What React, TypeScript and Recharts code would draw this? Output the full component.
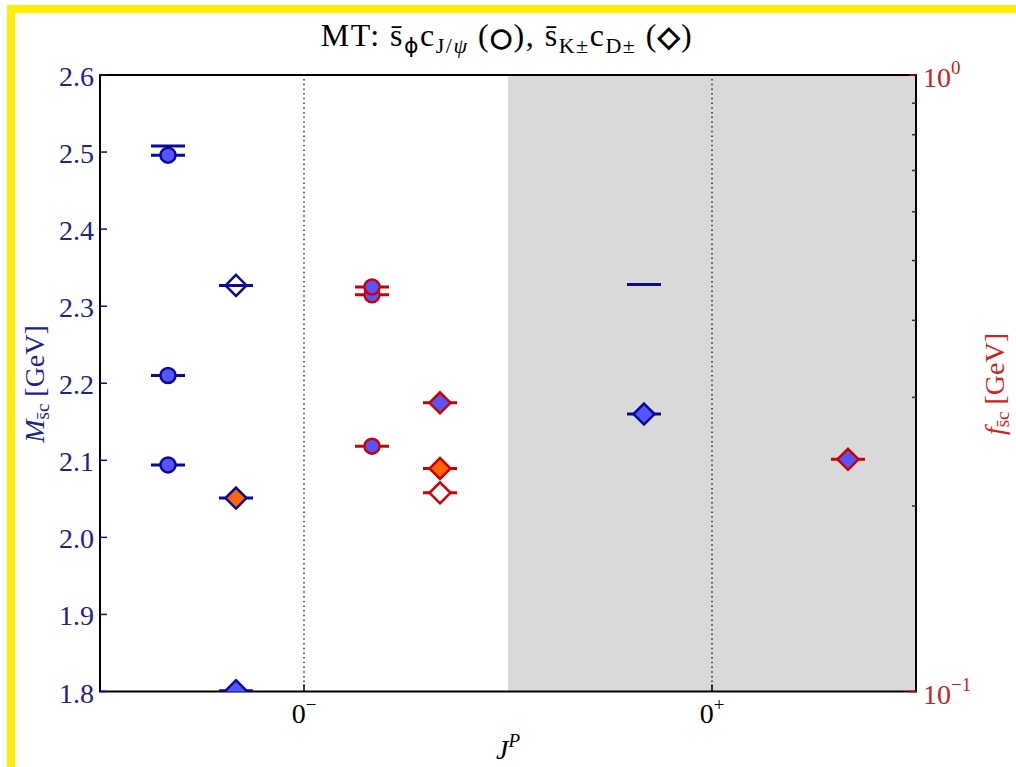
import React from 'react';
import { ComposedChart, Scatter, XAxis, YAxis, ReferenceArea, ReferenceLine } from 'recharts';

const SERIF = '"Liberation Serif", "DejaVu Serif", serif';
const NAVY = '#0a0a99';
const RED = '#cc0000';
const BLUE_FILL = '#5555ff';
const ORANGE = '#ff6600';
const LABEL_BLUE = '#22228b';
const LABEL_RED = '#cc2222';

// J^P axis: channel slots run 0..12, parity labels at 3 and 9
const jpTicks = [3, 9];
const jpSigns = ['−', '+'];
const massTicks = [1.8, 1.9, 2.0, 2.1, 2.2, 2.3, 2.4, 2.5, 2.6];
const decayTicks = [0.1, 0.2, 0.3, 0.4, 0.5, 0.6, 0.7, 0.8, 0.9, 1];

// masses [GeV], left axis
const phiJpsiMass = [
  { x: 1, m: 2.496 },
  { x: 1, m: 2.21 },
  { x: 1, m: 2.094 },
];
const extraMassLevels = [
  { x: 1, m: 2.508 },
  { x: 8, m: 2.328 },
];
const kdMassOpen = [{ x: 2, m: 2.327 }];
const kdMassOrange = [{ x: 2, m: 2.051 }];
const kdMassBlue = [
  { x: 2, m: 1.801 },
  { x: 8, m: 2.16 },
];

// decay constants [GeV], right axis (log)
const phiJpsiDecay = [
  { x: 4, f: 0.44 },
  { x: 4, f: 0.453 },
  { x: 4, f: 0.25 },
];
const kdDecayBlue = [
  { x: 5, f: 0.294 },
  { x: 11, f: 0.238 },
];
const kdDecayOrange = [{ x: 5, f: 0.23 }];
const kdDecayOpen = [{ x: 5, f: 0.21 }];

const marker = (kind: string, stroke: string, fill: string) => (props: any) => {
  const { cx, cy } = props;
  if (cx == null || cy == null) return <g />;
  const d = 10.5;
  return (
    <g>
      <line x1={cx - 17} x2={cx + 17} y1={cy} y2={cy} stroke={stroke} strokeWidth={3} />
      {kind === 'circle' && (
        <circle cx={cx} cy={cy} r={7.5} fill={fill} stroke={stroke} strokeWidth={2.5} />
      )}
      {kind === 'diamond' && (
        <path
          d={`M${cx},${cy - d}L${cx + d},${cy}L${cx},${cy + d}L${cx - d},${cy}Z`}
          fill={fill}
          stroke={stroke}
          strokeWidth={2.5}
        />
      )}
    </g>
  );
};

const MassTick = (props: any) => {
  const { x, y, payload } = props;
  return (
    <g>
      <line x1={x} x2={x + 7} y1={y} y2={y} stroke={NAVY} strokeWidth={1.5} />
      <text x={x - 6} y={y + 11} textAnchor="end" fill={LABEL_BLUE} fontSize={28} fontFamily={SERIF}>
        {payload.value.toFixed(1)}
      </text>
    </g>
  );
};

const DecayTick = (props: any) => {
  const { x, y, payload } = props;
  const v = payload.value;
  const major = Math.abs(v - 1) < 1e-6 || Math.abs(v - 0.1) < 1e-6;
  return (
    <g>
      <line x1={x} x2={x - (major ? 7 : 4)} y1={y} y2={y} stroke={major ? RED : '#333'} strokeWidth={1.5} />
      {major && (
        <text x={x + 7} y={y + 12} fill={LABEL_RED} fontSize={28} fontFamily={SERIF}>
          10
          <tspan dy={-13} fontSize={19}>{v > 0.5 ? '0' : '−1'}</tspan>
        </text>
      )}
    </g>
  );
};

const JpTick = (props: any) => {
  const { x, y, payload } = props;
  const sign = jpSigns[jpTicks.indexOf(payload.value)];
  return (
    <g>
      <line x1={x} x2={x} y1={y} y2={y - 7} stroke="#000" strokeWidth={1.5} />
      <text x={x} y={y + 31} textAnchor="middle" fill="#000" fontSize={28} fontFamily={SERIF}>
        0<tspan dy={-12} fontSize={19}>{sign}</tspan>
      </text>
    </g>
  );
};

export default function App() {
  return (
    <div style={{ position: 'absolute', left: 0, top: 0, width: 1016, height: 767, background: '#fff', overflow: 'hidden' }}>
      <div style={{ position: 'absolute', left: 7, top: 5, width: 8, height: 762, background: '#ffee00' }} />
      <div style={{ position: 'absolute', left: 7, top: 5, width: 1009, height: 8, background: '#ffee00' }} />
      <div style={{ position: 'absolute', left: 0, top: 0 }}>
        <ComposedChart width={1016} height={767} margin={{ top: 75, right: 0, bottom: 0, left: 0 }}>
          <XAxis
            type="number"
            dataKey="x"
            domain={[0, 12]}
            ticks={jpTicks}
            interval={0}
            allowDataOverflow
            height={75.5}
            axisLine={false}
            tickLine={false}
            tickSize={0}
            tickMargin={0}
            tick={<JpTick />}
          />
          <YAxis
            yAxisId="m"
            type="number"
            dataKey="m"
            domain={[1.8, 2.6]}
            ticks={massTicks}
            interval={0}
            allowDataOverflow
            width={100}
            axisLine={false}
            tickLine={false}
            tickSize={0}
            tickMargin={0}
            tick={<MassTick />}
          />
          <YAxis
            yAxisId="f"
            orientation="right"
            type="number"
            dataKey="f"
            scale="log"
            domain={[0.1, 1]}
            ticks={decayTicks}
            interval={0}
            allowDataOverflow
            width={100}
            axisLine={false}
            tickLine={false}
            tickSize={0}
            tickMargin={0}
            tick={<DecayTick />}
          />
          <ReferenceArea yAxisId="m" x1={6} x2={12} fill="#d9d9d9" fillOpacity={1} stroke="none" />
          <ReferenceLine yAxisId="m" x={3} stroke="#000" strokeWidth={1.2} strokeDasharray="1.5 3.2" />
          <ReferenceLine yAxisId="m" x={9} stroke="#000" strokeWidth={1.2} strokeDasharray="1.5 3.2" />

          <Scatter yAxisId="m" data={extraMassLevels} shape={marker('dash', NAVY, 'none')} isAnimationActive={false} />
          <Scatter yAxisId="m" data={phiJpsiMass} shape={marker('circle', NAVY, BLUE_FILL)} isAnimationActive={false} />
          <Scatter yAxisId="m" data={kdMassOpen} shape={marker('diamond', NAVY, 'none')} isAnimationActive={false} />
          <Scatter yAxisId="m" data={kdMassOrange} shape={marker('diamond', NAVY, ORANGE)} isAnimationActive={false} />
          <Scatter yAxisId="m" data={kdMassBlue} shape={marker('diamond', NAVY, BLUE_FILL)} isAnimationActive={false} />

          <Scatter yAxisId="f" data={phiJpsiDecay} shape={marker('circle', RED, BLUE_FILL)} isAnimationActive={false} />
          <Scatter yAxisId="f" data={kdDecayBlue} shape={marker('diamond', RED, BLUE_FILL)} isAnimationActive={false} />
          <Scatter yAxisId="f" data={kdDecayOrange} shape={marker('diamond', RED, ORANGE)} isAnimationActive={false} />
          <Scatter yAxisId="f" data={kdDecayOpen} shape={marker('diamond', RED, '#fff')} isAnimationActive={false} />

          <ReferenceArea yAxisId="m" x1={0} x2={12} fill="none" stroke="#000" strokeWidth={2} />
        </ComposedChart>
      </div>
      <svg width={1016} height={767} style={{ position: 'absolute', left: 0, top: 0, pointerEvents: 'none' }}>
        <text x={507} y={46} textAnchor="middle" fill="#000" fontSize={32} fontFamily={SERIF} letterSpacing={1.5}>
          MT: s̄
          <tspan dy={7} fontSize={22} fontFamily='"DejaVu Sans", sans-serif'>ϕ</tspan>
          <tspan dy={-7}>c</tspan>
          <tspan dy={7} fontSize={22}>J/</tspan>
          <tspan fontSize={22} fontStyle="italic">ψ</tspan>
          <tspan dy={-7}> (</tspan>
          <tspan fontFamily='"DejaVu Sans", sans-serif' fontSize={25} fontWeight="bold" stroke="#000" strokeWidth={1.4}>○</tspan>
          <tspan>), s̄</tspan>
          <tspan dy={7} fontSize={22}>K±</tspan>
          <tspan dy={-7}>c</tspan>
          <tspan dy={7} fontSize={22}>D±</tspan>
          <tspan dy={-7}> (</tspan>
          <tspan fontFamily='"DejaVu Sans", sans-serif' fontSize={28} fontWeight="bold" stroke="#000" strokeWidth={1.4}>◇</tspan>
          <tspan>)</tspan>
        </text>
        <text transform="translate(44,384) rotate(-90)" textAnchor="middle" fill={LABEL_BLUE} fontSize={28} fontFamily={SERIF}>
          <tspan fontStyle="italic">M</tspan>
          <tspan dy={5} fontSize={19}>s̄c</tspan>
          <tspan dy={-5}> [GeV]</tspan>
        </text>
        <text transform="translate(1004,384) rotate(-90)" textAnchor="middle" fill={LABEL_RED} fontSize={28} fontFamily={SERIF}>
          <tspan fontStyle="italic">f</tspan>
          <tspan dy={5} fontSize={19}>s̄c</tspan>
          <tspan dy={-5}> [GeV]</tspan>
        </text>
        <text x={508} y={759} textAnchor="middle" fill="#000" fontSize={28} fontFamily={SERIF}>
          <tspan fontStyle="italic">J</tspan>
          <tspan dy={-12} fontSize={19} fontStyle="italic">P</tspan>
        </text>
      </svg>
    </div>
  );
}
